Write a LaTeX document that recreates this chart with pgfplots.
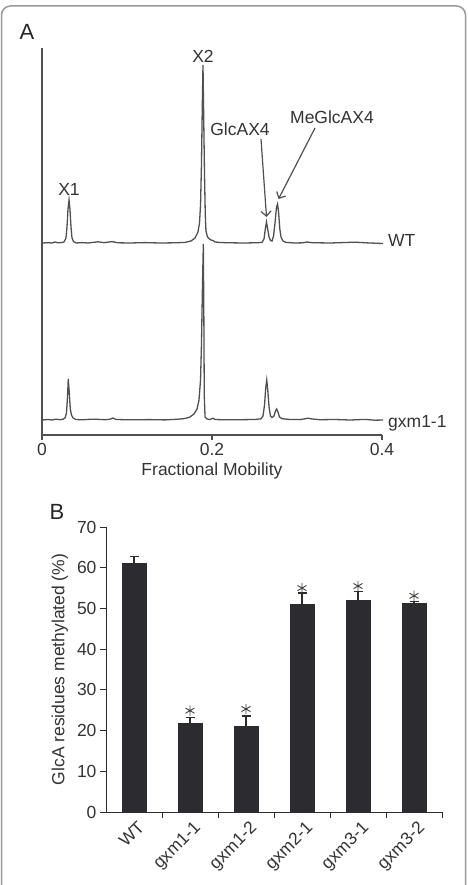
\documentclass[border=0pt]{standalone}
\usepackage{fontspec}
\setmainfont{Liberation Sans}
\usepackage{pgfplots}
\pgfplotsset{compat=1.18}
\usetikzlibrary{arrows.meta}
\definecolor{trace}{HTML}{505050}
\definecolor{barc}{HTML}{2B2B30}
\definecolor{framec}{HTML}{9A9A9A}
\newcommand{\fs}{\fontsize{17.5}{21}\selectfont}
\begin{document}
\begin{tikzpicture}
\path[use as bounding box] (0pt,0pt) rectangle (467pt,-885pt);
\draw[framec, line width=1.5pt, rounded corners=9pt] (1.5pt,-900pt) -- (1.5pt,-6pt) -- (465.5pt,-6pt) -- (465.5pt,-900pt);

\begin{axis}[at={(42pt,-435pt)}, anchor=south west, scale only axis, width=340pt, height=387pt,
 xmin=0, xmax=0.4, ymin=0, ymax=387, axis lines=left,
 axis line style={-, trace, line width=1.2pt},
 xtick={0,0.2,0.4}, xticklabels={0,0.2,0.4}, ytick=\empty,
 tick align=outside, major tick length=5pt, tick style={trace, line width=1.2pt},
 ticklabel style={font=\fs, text=black!80},
 xlabel={Fractional Mobility},
 xlabel style={font=\fs, text=black!80, at={(axis description cs:0.5,0)}, anchor=center, yshift=-36pt},
 clip=false]
\addplot[trace, line width=1.3pt] coordinates {
(0.0000,192) (0.0071,192.3) (0.0118,192) (0.0153,193) (0.0188,192.2) (0.0235,192.5)
(0.0259,193) (0.0282,197) (0.0294,208) (0.0306,226) (0.0318,235) (0.0329,226)
(0.0341,208) (0.0353,197) (0.0371,193.5) (0.0400,192) (0.0471,192.4) (0.0541,192)
(0.0600,192.6) (0.0659,193.2) (0.0729,192.3) (0.0824,193.4) (0.0894,192.2) (0.1035,192)
(0.1212,192.4) (0.1388,192) (0.1565,192.2) (0.1682,192.6) (0.1753,194) (0.1800,197)
(0.1835,203) (0.1853,212) (0.1865,230) (0.1876,270) (0.1886,330) (0.1894,370)
(0.1902,320) (0.1912,260) (0.1921,220) (0.1929,204) (0.1947,198) (0.1971,196)
(0.1988,195) (0.2012,194.5) (0.2035,193) (0.2094,192.5) (0.2212,192.2) (0.2388,192)
(0.2541,192.3) (0.2588,192.6) (0.2612,196) (0.2627,206) (0.2641,213) (0.2655,206)
(0.2671,198) (0.2688,194.5) (0.2706,194) (0.2724,199) (0.2741,212) (0.2759,228)
(0.2771,231) (0.2782,224) (0.2798,206) (0.2812,198) (0.2835,194) (0.2871,192.6)
(0.2976,192) (0.3071,192.2) (0.3118,193) (0.3176,192.3) (0.3388,192) (0.3565,192.5)
(0.3682,192.8) (0.3859,192) (0.4012,191.5)};
\addplot[trace, line width=1.3pt] coordinates {
(0.0000,15) (0.0071,15.5) (0.0118,15) (0.0165,15.8) (0.0212,15.3) (0.0247,15.8)
(0.0271,17) (0.0288,22) (0.0300,38) (0.0309,56) (0.0321,42) (0.0333,26)
(0.0347,20) (0.0365,17) (0.0400,15.5) (0.0471,15.2) (0.0541,15.6) (0.0624,15.8)
(0.0741,15.3) (0.0800,15.8) (0.0835,17) (0.0871,15.5) (0.1035,15.2) (0.1271,15.4)
(0.1447,15.1) (0.1600,15.8) (0.1682,16.5) (0.1741,18) (0.1788,21) (0.1824,26)
(0.1847,35) (0.1865,55) (0.1876,90) (0.1888,150) (0.1898,191) (0.1904,120)
(0.1909,40) (0.1918,18) (0.1941,16) (0.1976,15.5) (0.2012,16.8) (0.2035,15.5)
(0.2153,15.2) (0.2329,15.3) (0.2506,15.5) (0.2576,16.2) (0.2600,19) (0.2618,30)
(0.2633,48) (0.2644,55) (0.2656,45) (0.2671,28) (0.2688,19) (0.2706,17.5)
(0.2729,19) (0.2747,24) (0.2761,26) (0.2776,23) (0.2794,18) (0.2824,16.3)
(0.2918,15.5) (0.3035,15.4) (0.3094,16.2) (0.3129,16.8) (0.3176,16) (0.3271,15.3)
(0.3447,15.5) (0.3624,15) (0.3800,15.6) (0.3918,14.8) (0.4012,15)};
\end{axis}

% panel A annotations
\node[font=\fontsize{22}{26}\selectfont, text=black!85] at (27pt,-32pt) {A};
\node[font=\fs, text=black!80] at (69pt,-189pt) {X1};
\node[font=\fs, text=black!80] at (203pt,-56pt) {X2};
\node[font=\fs, text=black!80] at (240pt,-129pt) {GlcAX4};
\node[font=\fs, text=black!80] at (332pt,-117pt) {MeGlcAX4};
\draw[trace, line width=1.2pt, -{Straight Barb[length=5pt,width=10pt]}] (261pt,-139pt) -- (266.5pt,-217pt);
\draw[trace, line width=1.2pt, -{Straight Barb[length=5pt,width=10pt]}] (315pt,-128pt) -- (278.5pt,-199pt);
\node[font=\fs, text=black!80, anchor=base west, inner sep=0pt] at (388pt,-247pt) {WT};
\node[font=\fs, text=black!80, anchor=base west, inner sep=0pt] at (388pt,-427pt) {gxm1-1};

% panel B
\node[font=\fontsize{22}{26}\selectfont, text=black!85] at (57pt,-512pt) {B};
\begin{axis}[at={(106pt,-812pt)}, anchor=south west, scale only axis, width=336pt, height=285pt,
 xmin=-0.5, xmax=5.5, ymin=0, ymax=70, axis lines=left,
 axis line style={-, barc, line width=1pt},
 ytick={0,10,...,70}, xtick={0,...,5},
 xticklabels={WT,gxm1-1,gxm1-2,gxm2-1,gxm3-1,gxm3-2},
 minor xtick={0.5,1.5,...,5.5},
 tick align=outside, major tick length=6pt, minor tick length=6pt,
 major x tick style={draw=none}, minor x tick style={barc, line width=1pt},
 ytick style={barc, line width=1pt},
 xticklabel style={font=\fs, text=black!80, rotate=45, anchor=north east, xshift=4pt},
 yticklabel style={font=\fs, text=black!80},
 /pgf/number format/assume math mode=true,
 ylabel={GlcA residues methylated (\%)},
 ylabel style={font=\fs, text=black!80, at={(axis description cs:-0.137,0.5)}, anchor=center},
 clip=false]
\addplot[ybar, bar width=24pt, fill=barc, draw=barc,
 error bars/.cd, y dir=plus, y explicit,
 error bar style={barc, line width=1.2pt},
 error mark options={barc, line width=1.2pt, mark size=4.5pt, rotate=90}]
 coordinates {(0,61) +- (0,1.7) (1,21.7) +- (0,1.6) (2,21.1) +- (0,2.5)
 (3,51) +- (0,2.8) (4,52) +- (0,2.1) (5,51.2) +- (0,0.6)};
\addplot[only marks, mark=asterisk, mark size=5.2pt, mark options={black!75, line width=0.9pt}]
 coordinates {(1,24.9) (2,25.3) (3,55) (4,55.5) (5,53.1)};
\end{axis}
\end{tikzpicture}
\end{document}
